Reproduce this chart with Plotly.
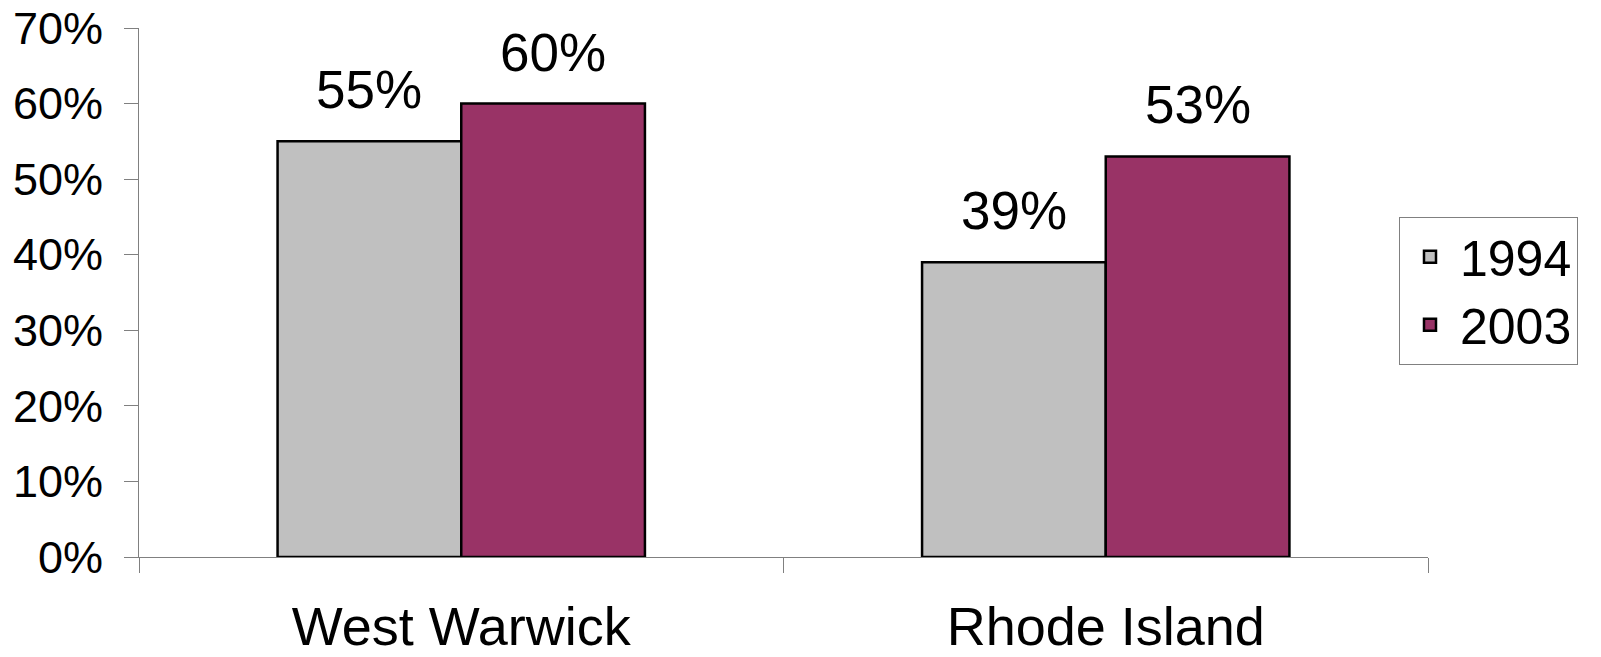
import plotly.graph_objects as go

# ---------------------------------------------------------------------------
# Data
# ---------------------------------------------------------------------------
categories = ["West Warwick", "Rhode Island"]
years = ["1994", "2003"]
values_1994 = [0.55, 0.39]
values_2003 = [0.60, 0.53]
y_ticks = [0.0, 0.1, 0.2, 0.3, 0.4, 0.5, 0.6, 0.7]

colors = {"1994": "#C0C0C0", "2003": "#993366"}
FONT = "Arial, Liberation Sans, sans-serif"
BARGAP = 0.43

series = {"1994": values_1994, "2003": values_2003}

fig = go.Figure()
for name in years:
    fig.add_trace(
        go.Bar(
            x=categories,
            y=series[name],
            name=name,
            marker=dict(color=colors[name], line=dict(color="black", width=2.5)),
        )
    )

# value labels above each bar (bar centre offset from the group centre)
bar_w = (1 - BARGAP) / len(years)
for j, name in enumerate(years):
    offset = -(1 - BARGAP) / 2 + bar_w * (j + 0.5)
    for i, v in enumerate(series[name]):
        fig.add_annotation(
            x=i + offset, y=v, xref="x", yref="y",
            text=f"{v:.0%}", showarrow=False,
            yanchor="bottom", yshift=20,
            font=dict(family=FONT, size=53, color="black"),
        )

fig.update_layout(
    width=1601,
    height=657,
    barmode="group",
    bargap=BARGAP,
    bargroupgap=0,
    plot_bgcolor="white",
    paper_bgcolor="white",
    margin=dict(l=139, r=173, t=28, b=100, autoexpand=False),
    font=dict(family=FONT, color="black"),
    legend=dict(
        x=0.9775, xanchor="left",
        y=0.643, yanchor="top",
        bordercolor="#808080", borderwidth=1,
        itemwidth=50,
        font=dict(family=FONT, size=50, color="black"),
    ),
)

fig.update_xaxes(
    type="category",
    range=[-0.5, 1.5],
    automargin=False,
    showline=True, linecolor="#808080", linewidth=1,
    ticks="outside", tickson="boundaries", ticklen=15, tickcolor="#808080",
    tickfont=dict(family=FONT, size=54, color="black"),
    ticklabelstandoff=22,
    showgrid=False,
)

fig.update_yaxes(
    range=[0, 0.7],
    automargin=False,
    tickvals=y_ticks,
    tickformat=".0%",
    showline=True, linecolor="#808080", linewidth=1,
    ticks="outside", ticklen=14, tickcolor="#808080",
    tickfont=dict(family=FONT, size=45, color="black"),
    ticklabelstandoff=12,
    showgrid=False, zeroline=False,
)

# drop the page's default body margin so the figure fills the window exactly
fig.write_html(
    "out.html",
    config={"displayModeBar": False},
    post_script="document.body.style.margin='0';document.body.style.overflow='hidden';",
)
